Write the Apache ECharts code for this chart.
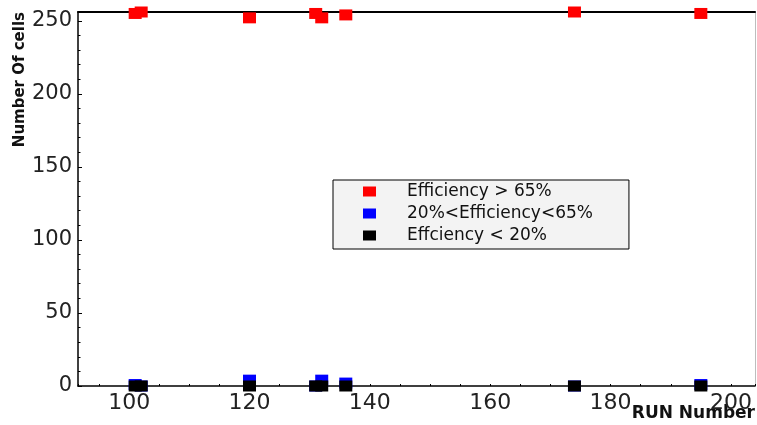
<!DOCTYPE html>
<html>
<head>
<meta charset="utf-8">
<title>Number Of cells vs RUN Number</title>
<script src="https://cdn.jsdelivr.net/npm/echarts@6/dist/echarts.min.js"></script>
<style>
	html, body { margin: 0; padding: 0; background: #ffffff; }
	#chart { width: 757px; height: 425px; }
</style>
</head>
<body>
<div id="chart"></div>
<script>
// run numbers and cell counts per efficiency class
var runNumbers   = [101, 102, 120, 131, 132, 136, 174, 195];
var cellsHigh    = [255, 256, 252, 255, 252, 254, 256, 255];
var cellsMiddle  = [1, 0, 4, 0, 4, 2, 0, 1];
var cellsLow     = [0, 0, 0, 0, 0, 0, 0, 0];

var seriesNames  = ['Efficiency > 65%', '20%<Efficiency<65%', 'Effciency < 20%'];

var xRange = [91.5, 204];
var yRange = [0, 256];


function _pairs(xs, ys) {
	var out = [];
	for (var i = 0; i < xs.length; i++) {
		out.push([xs[i], ys[i]]);
	}
	return out;
}


var chartColors = {
	high: '#ff0000',
	middle: '#0000ff',
	low: '#000000',
	axesLines: '#000000',
	frameRight: '#bdbdbd',
	labels: '#222222',
	legendBg: '#f3f3f3'
};

var fontFamily = 'DejaVu Sans';

function createScatter(name, color, data) {
	return {
		name: name,
		type: 'scatter',
		symbol: 'rect',
		symbolSize: [13, 11],
		itemStyle: { color: color, opacity: 1 },
		emphasis: { disabled: true },
		data: data
	};
}


var echart = echarts.init(document.getElementById('chart'));

var eChartOptions = {
	animation: false,
	backgroundColor: '#ffffff',
	grid: {
		left: 78,
		right: 2,
		top: 12,
		bottom: 39,
		containLabel: false,
		outerBoundsMode: 'none'
	},
	legend: {
		orient: 'vertical',
		left: 333,
		top: 180,
		padding: [3, 36, 5, 30],
		itemGap: 5,
		itemWidth: 13,
		itemHeight: 10,
		backgroundColor: chartColors.legendBg,
		borderColor: '#000000',
		borderWidth: 1,
		icon: 'rect',
		data: seriesNames,
		textStyle: {
			fontFamily: fontFamily,
			fontSize: 17,
			color: '#111111',
			padding: [0, 0, 0, 26]
		}
	},
	xAxis: [
		{
			type: 'value',
			min: xRange[0],
			max: xRange[1],
			splitNumber: 5,
			name: 'RUN Number',
			nameLocation: 'end',
			nameGap: 0,
			nameMoveOverlap: false,
			nameTextStyle: {
				fontFamily: fontFamily,
				fontWeight: 'bold',
				fontSize: 17,
				color: '#111111',
				align: 'right',
				verticalAlign: 'top',
				padding: [19, 0, 0, 0]
			},
			axisLine: { onZero: false, lineStyle: { color: chartColors.axesLines, width: 1.5 } },
			axisTick: { inside: true, length: 2, lineStyle: { color: chartColors.axesLines } },
			minorTick: { show: true, splitNumber: 4, length: 2, lineStyle: { color: chartColors.axesLines } },
			axisLabel: {
				fontFamily: fontFamily,
				fontSize: 22,
				color: chartColors.labels,
				margin: 6,
				showMinLabel: false,
				showMaxLabel: false
			},
			splitLine: { show: false }
		},
		{
			// top frame line
			type: 'value',
			position: 'top',
			min: xRange[0],
			max: xRange[1],
			axisLine: { show: true, onZero: false, lineStyle: { color: chartColors.axesLines, width: 2 } },
			axisTick: { show: false },
			axisLabel: { show: false },
			splitLine: { show: false }
		}
	],
	yAxis: [
		{
			type: 'value',
			min: yRange[0],
			max: yRange[1],
			interval: 50,
			name: 'Number Of cells',
			nameLocation: 'end',
			nameRotate: 90,
			nameGap: 0,
			nameMoveOverlap: false,
			nameTextStyle: {
				fontFamily: fontFamily,
				fontWeight: 'bold',
				fontSize: 15,
				color: '#111111',
				align: 'right',
				verticalAlign: 'bottom',
				padding: [0, 0, 50, 0]
			},
			axisLine: { show: true, onZero: false, lineStyle: { color: chartColors.axesLines, width: 1.5 } },
			axisTick: { inside: true, length: 4, lineStyle: { color: chartColors.axesLines } },
			minorTick: { show: true, splitNumber: 5, length: 2.5, lineStyle: { color: chartColors.axesLines } },
			axisLabel: {
				fontFamily: fontFamily,
				fontSize: 21,
				color: chartColors.labels,
				margin: 6,
				showMaxLabel: false
			},
			splitLine: { show: false }
		},
		{
			// right frame line
			type: 'value',
			position: 'right',
			min: yRange[0],
			max: yRange[1],
			axisLine: { show: true, onZero: false, lineStyle: { color: chartColors.frameRight, width: 1 } },
			axisTick: { show: false },
			axisLabel: { show: false },
			splitLine: { show: false }
		}
	],
	series: [
		createScatter(seriesNames[0], chartColors.high, _pairs(runNumbers, cellsHigh)),
		createScatter(seriesNames[1], chartColors.middle, _pairs(runNumbers, cellsMiddle)),
		createScatter(seriesNames[2], chartColors.low, _pairs(runNumbers, cellsLow))
	]
};

echart.setOption(eChartOptions);
</script>
</body>
</html>
